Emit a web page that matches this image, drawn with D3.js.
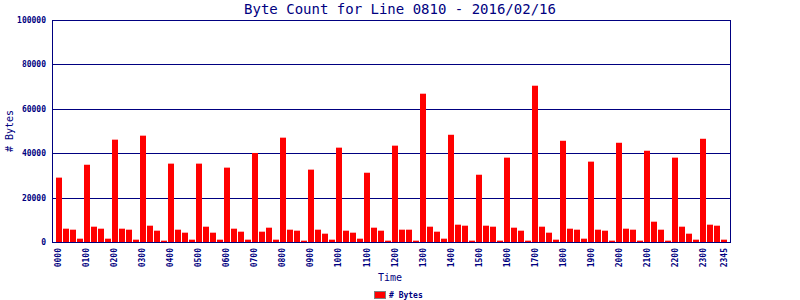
<!DOCTYPE html>
<html>
<head>
<meta charset="utf-8">
<script src="https://cdn.jsdelivr.net/npm/d3@7"></script>
<style>
  body { margin: 0; background: #fff; }
  text { font-family: "DejaVu Sans Mono", monospace; fill: #000080; }
</style>
</head>
<body>
<svg id="chart" width="800" height="300"></svg>
<script>
// 15-minute slots, one row per hour: :00, :15, :30, :45
const hours = d3.range(24).map(h => String(h).padStart(2, "0"));
const quarters = ["00", "15", "30", "45"];
const byteRows = [
  [29000, 6000, 5550, 1500],
  [34800, 6900, 6000, 1500],
  [46100, 6000, 5550, 1050],
  [47900, 7350, 5100, 600],
  [35300, 5550, 4200, 1050],
  [35300, 6900, 4200, 1050],
  [33500, 6000, 4650, 1050],
  [40100, 4650, 6450, 1050],
  [47000, 5550, 5100, 600],
  [32600, 5550, 3750, 1050],
  [42500, 5100, 4200, 1500],
  [31200, 6450, 5100, 600],
  [43400, 5550, 5550, 600],
  [66800, 6900, 4650, 1500],
  [48300, 7800, 7350, 600],
  [30300, 7350, 6900, 600],
  [38000, 6450, 5100, 600],
  [70400, 6900, 4200, 1050],
  [45600, 6000, 5550, 1500],
  [36200, 5550, 5100, 600],
  [44700, 6000, 5550, 600],
  [41100, 9150, 5550, 600],
  [38000, 6900, 3750, 1050],
  [46500, 7800, 7350, 1050]
];
const yTicks = [0, 20000, 40000, 60000, 80000, 100000];
const title = "Byte Count for Line 0810 - 2016/02/16";

const slots = [];
hours.forEach((h, i) => quarters.forEach((q, j) => {
  slots.push({ time: h + q, value: byteRows[i][j] });
}));
// x labels: every full hour plus the last slot
const xLabels = slots.filter((d, i) => d.time.endsWith("00") || i === slots.length - 1).map(d => d.time);

const navy = "#000080";
const svg = d3.select("#chart");
const plot = { left: 52, right: 730, top: 20, bottom: 242 };

const x = d3.scaleBand()
    .domain(slots.map(d => d.time))
    .range([plot.left + 3.5, plot.right - 2.5])
    .paddingInner(0.14);

const y = d3.scaleLinear()
    .domain([0, 100000])
    .range([plot.bottom, plot.top]);

// grid lines
svg.append("g")
    .selectAll("line")
    .data(yTicks)
    .enter().append("line")
    .attr("x1", plot.left).attr("x2", plot.right)
    .attr("y1", d => Math.round(y(d)) + 0.5)
    .attr("y2", d => Math.round(y(d)) + 0.5)
    .attr("stroke", navy)
    .attr("stroke-width", 1);

// bars
svg.append("g")
    .selectAll("rect")
    .data(slots)
    .enter().append("rect")
    .attr("x", d => Math.round(x(d.time)))
    .attr("width", Math.round(x.bandwidth()))
    .attr("y", d => y(d.value))
    .attr("height", d => plot.bottom - y(d.value))
    .attr("fill", "#ff0000");

// frame
svg.append("rect")
    .attr("x", plot.left + 0.5).attr("y", plot.top + 0.5)
    .attr("width", plot.right - plot.left).attr("height", plot.bottom - plot.top)
    .attr("fill", "none")
    .attr("stroke", navy);

// y axis labels
const yAxis = d3.axisLeft(y).tickValues(yTicks).tickSize(0).tickPadding(6).tickFormat(d3.format("d"));
const gy = svg.append("g").attr("transform", `translate(${plot.left},0)`).call(yAxis);
gy.select(".domain").remove();
gy.selectAll("text")
    .attr("fill", navy)
    .style("font-size", "8px")
    .style("font-weight", "bold")
    .style("font-family", "'DejaVu Sans Mono', monospace");

// x axis labels
const xAxis = d3.axisBottom(x).tickValues(xLabels).tickSize(0).tickPadding(0);
const gx = svg.append("g").attr("transform", `translate(0,${plot.bottom})`).call(xAxis);
gx.select(".domain").remove();
gx.selectAll("text")
    .attr("fill", navy)
    .attr("transform", "rotate(-90)")
    .attr("x", -6)
    .attr("y", 0)
    .attr("dy", "0.32em")
    .style("text-anchor", "end")
    .style("font-size", "8px")
    .style("font-weight", "bold")
    .style("font-family", "'DejaVu Sans Mono', monospace");

// title
svg.append("text")
    .attr("x", 400).attr("y", 14)
    .attr("text-anchor", "middle")
    .style("font-size", "14px")
    .text(title);

// axis titles
svg.append("text")
    .attr("x", 390).attr("y", 281)
    .attr("text-anchor", "middle")
    .style("font-size", "10px")
    .text("Time");

svg.append("text")
    .attr("transform", "translate(13,131) rotate(-90)")
    .attr("text-anchor", "middle")
    .style("font-size", "10px")
    .text("# Bytes");

// legend
svg.append("rect")
    .attr("x", 374.5).attr("y", 291.5)
    .attr("width", 11).attr("height", 7)
    .attr("fill", "#ff0000")
    .attr("stroke", "#808080");
svg.append("text")
    .attr("x", 389).attr("y", 298)
    .style("font-size", "8px")
    .style("font-weight", "bold")
    .text("# Bytes");
</script>
</body>
</html>
